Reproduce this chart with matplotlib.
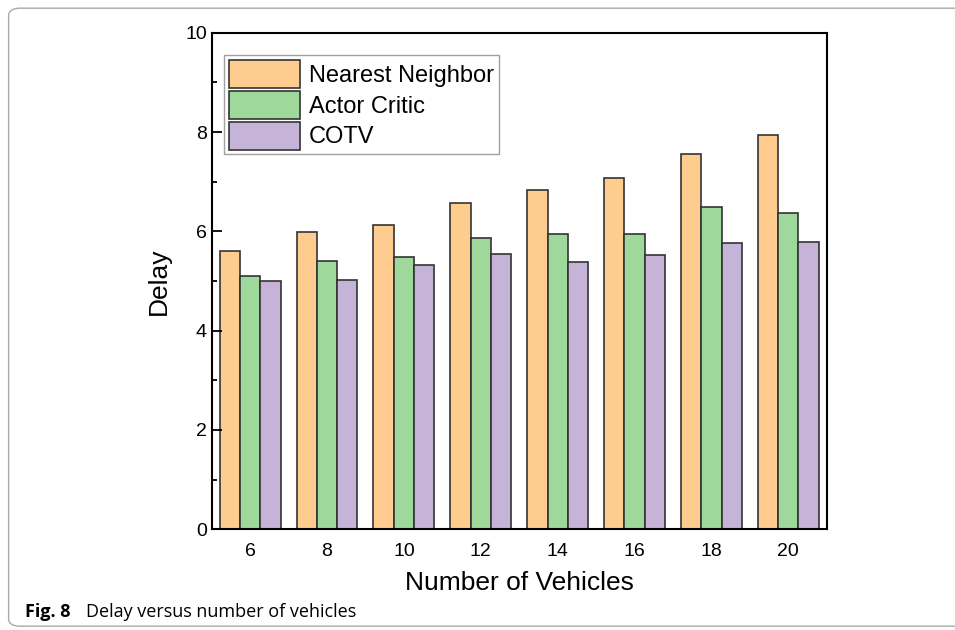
import numpy as np
import matplotlib.pyplot as plt
from matplotlib.patches import FancyBboxPatch
from matplotlib.ticker import MultipleLocator

# data
vehicles = ['6', '8', '10', '12', '14', '16', '18', '20']
nearest = [5.61, 5.98, 6.12, 6.57, 6.84, 7.07, 7.55, 7.95]
actor = [5.11, 5.40, 5.48, 5.86, 5.95, 5.94, 6.50, 6.36]
cotv = [4.99, 5.01, 5.32, 5.55, 5.38, 5.53, 5.77, 5.78]

plt.rcParams['font.family'] = ['Liberation Sans', 'DejaVu Sans']

fig = plt.figure(figsize=(9.55, 6.3), dpi=100)
ax = fig.add_axes([0.2217, 0.160, 0.644, 0.788])

x = np.arange(len(vehicles))
w = 0.264
edge = '#333333'
ax.bar(x - w, nearest, w, color='#FFCC90', edgecolor=edge, linewidth=1.2, label='Nearest Neighbor')
ax.bar(x, actor, w, color='#9ED89B', edgecolor=edge, linewidth=1.2, label='Actor Critic')
ax.bar(x + w, cotv, w, color='#C5B3D8', edgecolor=edge, linewidth=1.2, label='COTV')

ax.set_xlim(-0.5, 7.5)
ax.set_ylim(0, 10)
ax.set_xticks(x)
ax.set_xticklabels(vehicles)
ax.yaxis.set_major_locator(MultipleLocator(2))
ax.yaxis.set_minor_locator(MultipleLocator(1))
ax.tick_params(axis='y', which='major', direction='in', length=7, width=1.3, labelsize=14)
ax.tick_params(axis='y', which='minor', direction='in', length=3.5, width=1.3)
ax.tick_params(axis='x', length=0, labelsize=14, pad=10)
for s in ax.spines.values():
    s.set_linewidth(1.5)

ax.set_xlabel('Number of Vehicles', fontsize=19, labelpad=8)
ax.set_ylabel('Delay', fontsize=19, labelpad=10)

leg = ax.legend(loc='upper left', bbox_to_anchor=(0.02, 0.955), fontsize=17, frameon=True,
                fancybox=False, edgecolor='#888888', handlelength=3.0, handleheight=1.45,
                handletextpad=0.4, labelspacing=0.12, borderpad=0.2, borderaxespad=0)
leg.get_frame().set_linewidth(1.0)

# caption and border
fig.text(0.026, 0.02, 'Fig. 8', fontsize=13, fontweight='bold', family=['Open Sans', 'DejaVu Sans'])
fig.text(0.09, 0.02, 'Delay versus number of vehicles', fontsize=13, family=['Open Sans', 'DejaVu Sans'])
border = FancyBboxPatch((0.009, 0.006), 1.2, 0.981, boxstyle='round,pad=0,rounding_size=0.012',
                        transform=fig.transFigure, fill=False, edgecolor='#aaaaaa', linewidth=1.0)
fig.patches.append(border)

fig.savefig('out.png', dpi=100)
